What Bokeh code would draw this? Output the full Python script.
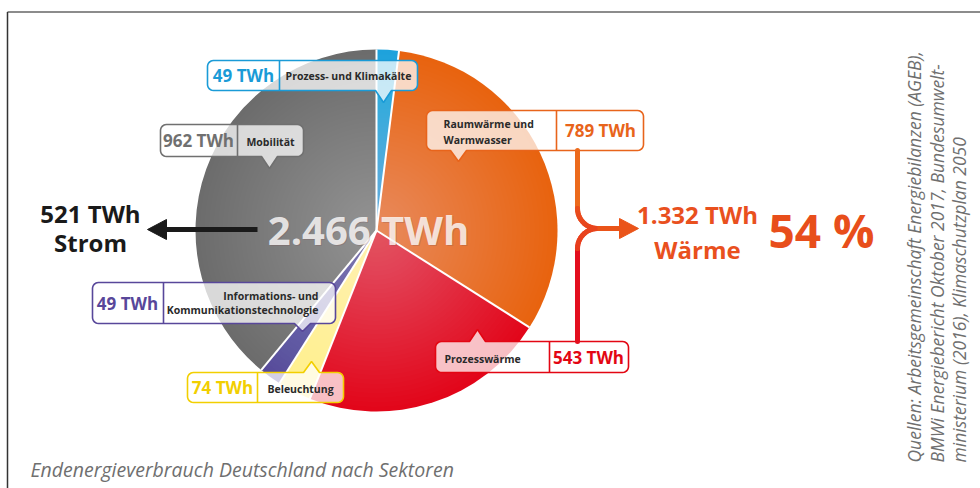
import numpy as np
from bokeh.plotting import figure
from bokeh.models import Range1d
from bokeh.core.properties import value
from bokeh.embed import file_html
from bokeh.resources import INLINE

# ---------------- data ----------------
sectors = ["Prozess- und Klimakälte", "Raumwärme und Warmwasser", "Prozesswärme",
           "Beleuchtung", "Informations- und Kommunikationstechnologie", "Mobilität"]
twh = [49, 789, 543, 74, 49, 962]
slice_colors = ["#1ea2dc", "#e8630f", "#e2061a", "#fff08c", "#574a9a", "#6c6c6c"]
value_colors = ["#1a9bd7", "#e8641b", "#e30613", "#f2cf00", "#58479a", "#707070"]
strom_twh = 521
heat_sectors = ["Raumwärme und Warmwasser", "Prozesswärme"]
caption = "Endenergieverbrauch Deutschland nach Sektoren"
source_lines = ["Quellen: Arbeitsgemeinschaft Energiebilanzen (AGEB),",
                "BMWi Energiebericht Oktober 2017, Bundesumwelt-",
                "ministerium (2016), Klimaschutzplan 2050"]

FONT = value("Open Sans")
H = 488


def Y(img_y):
    return H - np.asarray(img_y, dtype=float)


def de(n):
    return f"{n:,}".replace(",", ".")


p = figure(width=980, height=488, output_backend="svg", toolbar_location=None,
           x_range=Range1d(0, 980), y_range=Range1d(0, 488), min_border=0)
p.axis.visible = False
p.grid.visible = False
p.outline_line_color = None
p.background_fill_color = "white"

# frame lines
p.line([7, 980], [Y(11.5), Y(11.5)], line_color="#666666", line_width=1.5)
p.line([7, 7], [Y(11.5), 0], line_color="#333333", line_width=1.5)

# ---------------- pie ----------------
cx, cy, R = 376, Y(230), 181
total = sum(twh)
frac = np.array(twh) / total
cum = np.concatenate([[0], np.cumsum(frac)])
starts = np.pi / 2 - cum[:-1] * 2 * np.pi
ends = np.pi / 2 - cum[1:] * 2 * np.pi

p.wedge(x=cx, y=cy, radius=R, start_angle=starts, end_angle=ends, direction="clock",
        fill_color=slice_colors, line_color=None)
# radial light shading
N = 40
for k in range(1, N):
    p.wedge(x=cx, y=cy, radius=R * (1 - k / N), start_angle=starts, end_angle=ends,
            direction="clock", fill_color="white", fill_alpha=0.013, line_color=None)
# separators
for a in starts:
    p.line([cx, cx + R * np.cos(a)], [cy, cy + R * np.sin(a)], line_color="white", line_width=2)

# center total
p.text(x=[cx - 8], y=[cy + 1], text=[f"{de(total)} TWh"], text_font=FONT, text_font_size="40px",
       text_font_style="bold", text_color="#7a5050", text_alpha=0.25,
       text_align="center", text_baseline="middle", x_offset=1, y_offset=1)
p.text(x=[cx - 8], y=[cy + 1], text=[f"{de(total)} TWh"], text_font=FONT, text_font_size="40px",
       text_font_style="bold", text_color="white", text_alpha=0.8,
       text_align="center", text_baseline="middle")


# ---------------- bubbles ----------------
def bubble(x0, y0, x1, y1, px, side, tip, r=6, w=8):
    xs, ys = [], []

    def arc(ccx, ccy, a0, a1):
        t = np.radians(np.linspace(a0, a1, 7))
        xs.extend(ccx + r * np.cos(t))
        ys.extend(ccy + r * np.sin(t))

    arc(x0 + r, y0 + r, 180, 270)
    if side == "top":
        xs.extend([px - w, px, px + w]); ys.extend([y0, tip, y0])
    arc(x1 - r, y0 + r, 270, 360)
    arc(x1 - r, y1 - r, 0, 90)
    if side == "bottom":
        xs.extend([px + w, px, px - w]); ys.extend([y1, tip, y1])
    arc(x0 + r, y1 - r, 90, 180)
    return xs, list(Y(ys))


boxes = [
    # x0, y0, x1, y1, divider, pointer x, side, tip
    (207, 60, 417, 90, 279, 383, "bottom", 102),
    (426, 110, 643, 150, 556, 458, "bottom", 161),
    (435, 341, 628, 372, 549, 477, "top", 329),
    (187, 372, 343, 402, 257, 311, "top", 361),
    (92, 282, 335, 323, 163, 302, "bottom", 331),
    (160, 124, 303, 156, 237, 269, "bottom", 168),
]

for i, (x0, y0, x1, y1, xd, px, side, tip) in enumerate(boxes):
    bx, by = bubble(x0, y0, x1, y1, px, side, tip)
    p.patch(bx, by, fill_color="white", fill_alpha=0.74, line_color=value_colors[i], line_width=1.6)
    p.line([xd, xd], [Y(y0), Y(y1)], line_color=value_colors[i], line_width=1.6)

val_txt = [f"{v} TWh" for v in twh]
# value texts
val_pos = [(243, 75), (600, 130), (588, 357), (222, 387), (127, 303), (198, 140)]
for i, (vx, vy) in enumerate(val_pos):
    p.text(x=[vx], y=[Y(vy)], text=[val_txt[i]], text_font=FONT, text_font_size="17px",
           text_font_style="bold", text_color=value_colors[i], text_align="center",
           text_baseline="middle")

name_style = dict(text_font=FONT, text_font_size="10.5px", text_font_style="bold",
                  text_color="#2a2a2a", text_baseline="middle")
p.text(x=[348], y=[Y(75)], text=[sectors[0]], text_align="center", **name_style)
p.text(x=[443, 443], y=list(Y([123, 139])), text=["Raumwärme und", "Warmwasser"],
       text_align="left", **name_style)
p.text(x=[444], y=[Y(358)], text=[sectors[2]], text_align="left", **name_style)
p.text(x=[300], y=[Y(388)], text=[sectors[3]], text_align="center", **name_style)
p.text(x=[318, 318], y=list(Y([295, 309])), text=["Informations- und", "Kommunikationstechnologie"],
       text_align="right", **name_style)
p.text(x=[270], y=[Y(141)], text=[sectors[5]], text_align="center", **name_style)

# ---------------- Strom arrow ----------------
p.line([257, 163], [Y(229), Y(229)], line_color="#1a1a1a", line_width=5)
p.patch([147, 166, 166], list(Y([229, 219, 239])), fill_color="#1a1a1a", line_color="#1a1a1a")
p.text(x=[90, 90], y=list(Y([213, 242])), text=[f"{strom_twh} TWh", "Strom"], text_font=FONT,
       text_font_size="24px", text_font_style="bold", text_color="#1a1a1a",
       text_align="center", text_baseline="middle")

# ---------------- Wärme bracket ----------------
def hexmix(c1, c2, t):
    a = np.array([int(c1[i:i + 2], 16) for i in (1, 3, 5)])
    b = np.array([int(c2[i:i + 2], 16) for i in (1, 3, 5)])
    c = (a + (b - a) * t).round().astype(int)
    return "#%02x%02x%02x" % tuple(c)


rr = 20
jx, jy = 577, 228
t = np.radians(np.linspace(180, 90, 12))
up_x = [jx, jx] + list(jx + rr + rr * np.cos(t))
up_y = [150, jy - rr] + list(jy - rr + rr * np.sin(t))
lo_x = [jx, jx] + list(jx + rr + rr * np.cos(t))
lo_y = [341, jy + rr] + list(jy + rr - rr * np.sin(t))
warm_top, warm_bot = "#ec6a1c", "#e30e1e"
for xs_, ys_ in [(up_x, up_y), (lo_x, lo_y)]:
    n = len(xs_) - 1
    for k in range(n):
        tt = (ys_[k] - 150) / (341 - 150)
        col = hexmix(warm_top, warm_bot, min(max(tt, 0), 1))
        p.line([xs_[k], xs_[k + 1]], list(Y([ys_[k], ys_[k + 1]])), line_color=col,
               line_width=5, line_cap="round")
p.line([jx + rr, 622], [Y(jy), Y(jy)], line_color="#ea5419", line_width=5)
p.patch([638, 619, 619], list(Y([jy, jy - 10, jy + 10])), fill_color="#ea5419", line_color="#ea5419")

heat = sum(v for s, v in zip(sectors, twh) if s in heat_sectors)
share = round(100 * heat / total)
p.text(x=[697, 697], y=list(Y([214, 249])), text=[f"{de(heat)} TWh", "Wärme"], text_font=FONT,
       text_font_size="24px", text_font_style="bold", text_color="#e9501e",
       text_align="center", text_baseline="middle")
p.text(x=[821], y=[Y(229)], text=[f"{share} %"], text_font=FONT, text_font_size="46px",
       text_font_style="bold", text_color="#e84e1b", text_align="center", text_baseline="middle")

# ---------------- source & caption ----------------
p.text(x=[913, 936, 958], y=[Y(462)] * 3, text=source_lines, angle=np.pi / 2, text_font=FONT,
       text_font_size="17.5px", text_font_style="italic", text_color="#6f6f6f",
       text_align="left", text_baseline="middle")
p.text(x=[30], y=[Y(469)], text=[caption], text_font=FONT, text_font_size="19.5px",
       text_font_style="italic", text_color="#6f6f6f", text_align="left", text_baseline="middle")

open("out.html", "w").write(file_html(p, INLINE))
